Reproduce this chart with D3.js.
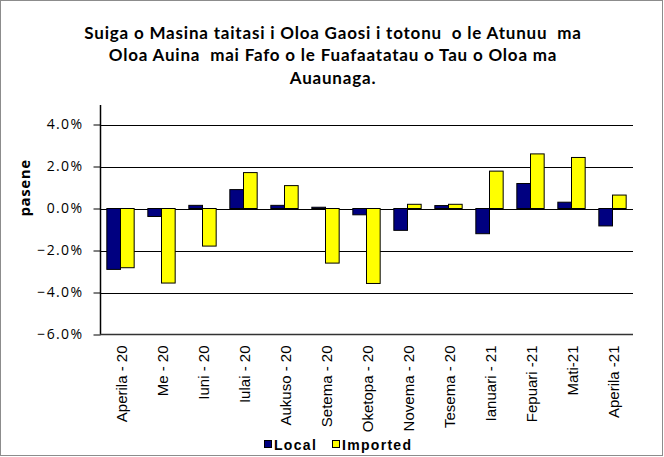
<!DOCTYPE html>
<html><head><meta charset="utf-8">
<script src="https://cdn.jsdelivr.net/npm/d3@7"></script>
<style>
body{margin:0;background:#fff;}
svg{display:block;}
</style></head>
<body>
<script>
const titleLines = ["Suiga o Masina taitasi i Oloa Gaosi i totonu  o le Atunuu  ma",
  "Oloa Auina  mai Fafo o le Fuafaatatau o Tau o Oloa ma",
  "Auaunaga."];
const categories = ["Aperila - 20","Me - 20","Iuni - 20","Iulai - 20","Aukuso - 20","Setema - 20","Oketopa - 20","Novema - 20","Tesema - 20","Ianuari - 21","Fepuari -21","Mati-21","Aperila -21"];
const local =    [-2.9, -0.38, 0.15, 0.9, 0.15, 0.06, -0.3, -1.04, 0.14, -1.2, 1.19, 0.3, -0.83];
const imported = [-2.82, -3.55, -1.79, 1.71, 1.09, -2.6, -3.57, 0.2, 0.2, 1.78, 2.6, 2.43, 0.64];
const yTicks = [-6, -4, -2, 0, 2, 4];
const seriesNames = ["Local", "Imported"];
const colors = ["#000080", "#FFFF00"];

const W = 664, H = 457;
const svg = d3.select("body").append("svg").attr("width", W).attr("height", H);
svg.append("rect").attr("x",0.5).attr("y",0.5).attr("width",W-2).attr("height",H-2)
  .attr("fill","#fff").attr("stroke","#8c8c8c").attr("stroke-width",1);

const left = 100, right = 633;
const y = d3.scaleLinear().domain([-6, 4]).range([334.5, 124.5]);
const x = d3.scaleBand().domain(categories).range([left, right]).paddingInner(0).paddingOuter(0);
const bw = x.bandwidth() / 3;

// title
svg.append("g").selectAll("text").data(titleLines).join("text")
  .attr("x", 333).attr("y", (d,i) => 39 + i*22.3)
  .attr("text-anchor","middle").style("white-space","pre")
  .attr("font-family","Lato, 'Open Sans', sans-serif").attr("font-weight","bold")
  .attr("font-size","17px").attr("letter-spacing","0.8px").attr("fill","#000").text(d => d);

// gridlines
svg.append("g").selectAll("line").data(yTicks.filter(t => t > -6)).join("line")
  .attr("x1", left).attr("x2", right)
  .attr("y1", d => Math.round(y(d))+0.5).attr("y2", d => Math.round(y(d))+0.5)
  .attr("stroke","#000").attr("stroke-width",1);

// bars
[local, imported].forEach((vals, s) => {
  svg.append("g").selectAll("rect").data(vals).join("rect")
    .attr("x", (d,i) => x(categories[i]) + bw/2 + s*bw)
    .attr("y", d => y(Math.max(0,d)))
    .attr("width", bw)
    .attr("height", d => Math.abs(y(d) - y(0)))
    .attr("fill", colors[s]).attr("stroke","#000").attr("stroke-width",1);
});

// y axis
const yAxis = d3.axisLeft(y).tickValues(yTicks).tickSize(7).tickPadding(10)
  .tickFormat(d => d3.format(".1f")(d) + "%");
const ya = svg.append("g").attr("transform", `translate(${left+0.5},0)`).call(yAxis);
ya.select(".domain").remove();
ya.selectAll(".tick line").attr("stroke","#000");
ya.selectAll(".tick text").attr("font-family","'Open Sans', sans-serif").attr("font-size","14px")
  .attr("fill","#000").attr("letter-spacing","1.4px");
svg.append("line").attr("x1",left+0.5).attr("x2",left+0.5).attr("y1",105).attr("y2",y(-6))
  .attr("stroke","#000").attr("stroke-width",1.5);

// x axis
const xAxis = d3.axisBottom(x).tickSize(0).tickPadding(0);
const xa = svg.append("g").attr("transform", `translate(0,${y(-6)})`).call(xAxis);
xa.select(".domain").remove();
svg.append("line").attr("x1",left).attr("x2",right).attr("y1",y(-6)).attr("y2",y(-6))
  .attr("stroke","#333").attr("stroke-width",1.5);
xa.selectAll(".tick text")
  .attr("font-family","'Liberation Sans', Arial, sans-serif").attr("font-size","15px")
  .attr("fill","#000").attr("text-anchor","end").attr("dy","0.35em").style("white-space","pre")
  .attr("transform","translate(1,11) rotate(-90)").attr("x",0).attr("y",0);

// y label
svg.append("text").attr("transform","translate(30,188) rotate(-90)")
  .attr("text-anchor","middle").attr("font-family","'Open Sans', sans-serif")
  .attr("font-weight","bold").attr("font-size","15px").attr("letter-spacing","0.6px").text("pasene");

// legend
const legX = [264, 332];
seriesNames.forEach((n, i) => {
  svg.append("rect").attr("x", legX[i]+0.5).attr("y", 440.5).attr("width",7).attr("height",7)
    .attr("fill", colors[i]).attr("stroke","#000").attr("stroke-width",1);
  svg.append("text").attr("x", legX[i]+10).attr("y", 450)
    .attr("font-family","'Liberation Sans', Arial, sans-serif").attr("font-weight","bold")
    .attr("font-size","14px").attr("letter-spacing","1.3px").text(n);
});
</script>
</body></html>
